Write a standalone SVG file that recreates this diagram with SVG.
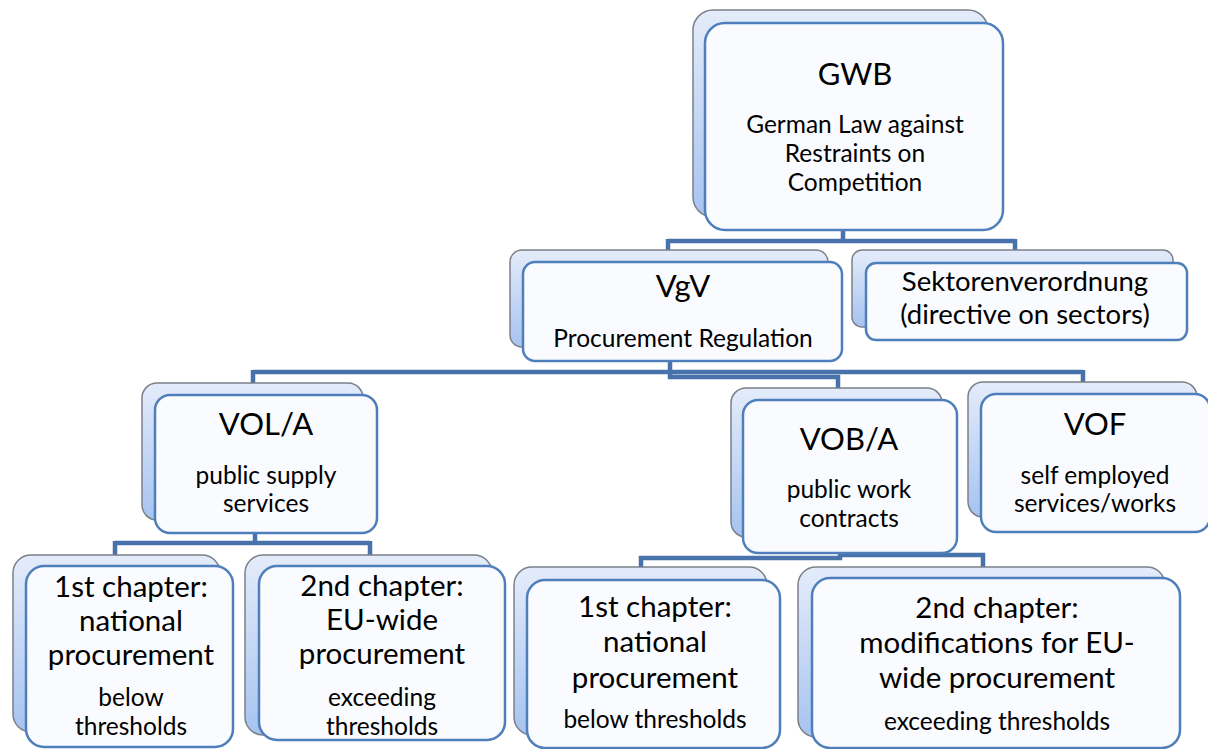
<svg xmlns="http://www.w3.org/2000/svg" width="1208" height="749" viewBox="0 0 1208 749">
<defs>
<linearGradient id="bg" x1="0" y1="0" x2="0" y2="1">
<stop offset="0" stop-color="#e4ecfa"/>
<stop offset="1" stop-color="#a6c3f0"/>
</linearGradient>
<style>
.back{fill:url(#bg);stroke:#7b8089;stroke-width:1.5}
.front{fill:#fafbfe;stroke:#4f7fbb;stroke-width:2.5}
.conn{fill:none;stroke:#4872aa;stroke-width:4.5;stroke-linejoin:miter}
text{font-family:Lato,"Liberation Sans",sans-serif;fill:#000;text-anchor:middle}
.t31{font-size:31px}
.t29{font-size:29.5px}
.t24{font-size:24.5px}
.t27{font-size:27.5px}
</style>
</defs>
<rect width="1208" height="749" fill="#ffffff"/>
<g id="connectors">
<path class="conn" d="M843,230 V241 M668,241 H1015 M668,239 V250 M1015,239 V263"/>
<path class="conn" d="M670,361 V377 H838 V388 M253,372 H1083 M253,370 V383 M1083,370 V382"/>
<path class="conn" d="M255,533 V543 M115,543 H370 M115,541 V555 M370,541 V555"/>
<path class="conn" d="M840,553 V558 H641 V567 M840,555 H983 V567"/>
</g>
<g id="gwb">
<rect class="back" x="693" y="10" width="295" height="207" rx="20"/>
<rect class="front" x="705" y="23" width="298" height="207" rx="20"/>
<text class="t31" x="855" y="85">GWB</text>
<text class="t24" x="855" y="133">German Law against</text>
<text class="t24" x="855" y="162">Restraints on</text>
<text class="t24" x="855" y="191">Competition</text>
</g>
<g id="vgv">
<rect class="back" x="510" y="250" width="318" height="97" rx="12"/>
<rect class="front" x="523" y="262" width="319" height="99" rx="12"/>
<text class="t31" x="683" y="297">VgV</text>
<text class="t24" x="683" y="347">Procurement Regulation</text>
</g>
<g id="sektor">
<rect class="back" x="852" y="250" width="321" height="77" rx="10"/>
<rect class="front" x="866" y="263" width="321" height="77" rx="10"/>
<text class="t27" x="1025" y="291">Sektorenverordnung</text>
<text class="t27" x="1025" y="324">(directive on sectors)</text>
</g>
<g id="vola">
<rect class="back" x="142" y="383" width="221" height="137" rx="15"/>
<rect class="front" x="155" y="395" width="222" height="138" rx="15"/>
<text class="t31" x="266" y="435">VOL/A</text>
<text class="t24" x="266" y="484">public supply</text>
<text class="t24" x="266" y="512">services</text>
</g>
<g id="voba">
<rect class="back" x="731" y="388" width="211" height="149" rx="15"/>
<rect class="front" x="743" y="400" width="214" height="153" rx="15"/>
<text class="t31" x="849" y="450">VOB/A</text>
<text class="t24" x="849" y="498">public work</text>
<text class="t24" x="849" y="527">contracts</text>
</g>
<g id="vof">
<rect class="back" x="968" y="382" width="229" height="135" rx="15"/>
<rect class="front" x="981" y="394" width="229" height="138" rx="15"/>
<text class="t31" x="1095" y="435">VOF</text>
<text class="t24" x="1095" y="484">self employed</text>
<text class="t24" x="1095" y="512">services/works</text>
</g>
<g id="vola-ch1">
<rect class="back" x="13" y="555" width="207" height="177" rx="18"/>
<rect class="front" x="26" y="566" width="207" height="181" rx="18"/>
<text class="t29" x="131" y="597">1st chapter:</text>
<text class="t29" x="131" y="631">national</text>
<text class="t29" x="131" y="665">procurement</text>
<text class="t24" x="131" y="706">below</text>
<text class="t24" x="131" y="735">thresholds</text>
</g>
<g id="vola-ch2">
<rect class="back" x="245" y="555" width="247" height="180" rx="18"/>
<rect class="front" x="259" y="566" width="246" height="174" rx="18"/>
<text class="t29" x="382" y="596">2nd chapter:</text>
<text class="t29" x="382" y="630">EU-wide</text>
<text class="t29" x="382" y="664">procurement</text>
<text class="t24" x="382" y="706">exceeding</text>
<text class="t24" x="382" y="735">thresholds</text>
</g>
<g id="voba-ch1">
<rect class="back" x="514" y="567" width="253" height="168" rx="18"/>
<rect class="front" x="527" y="580" width="253" height="168" rx="18"/>
<text class="t29" x="655" y="617">1st chapter:</text>
<text class="t29" x="655" y="652">national</text>
<text class="t29" x="655" y="688">procurement</text>
<text class="t24" x="655" y="728">below thresholds</text>
</g>
<g id="voba-ch2">
<rect class="back" x="798" y="567" width="367" height="170" rx="18"/>
<rect class="front" x="812" y="578" width="368" height="170" rx="18"/>
<text class="t29" x="997" y="618">2nd chapter:</text>
<text class="t29" x="997" y="653">modifications for EU-</text>
<text class="t29" x="997" y="688">wide procurement</text>
<text class="t24" x="997" y="730">exceeding thresholds</text>
</g>
</svg>
